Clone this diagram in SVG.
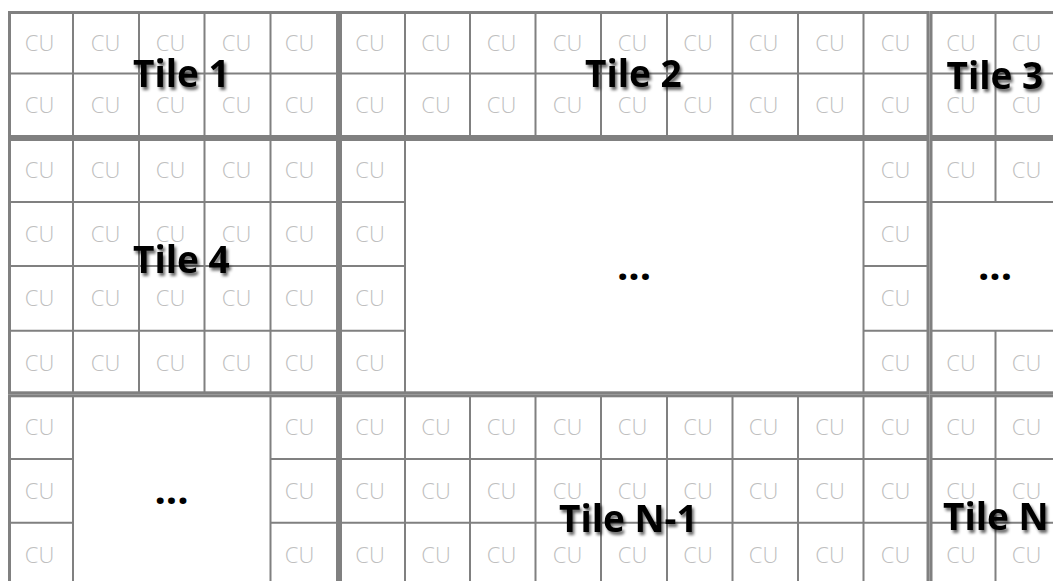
<svg xmlns="http://www.w3.org/2000/svg" width="1053" height="581" viewBox="0 0 1053 581">
<style>
.tile{fill:none;stroke:#808080;stroke-width:3}
.grid{fill:none;stroke:#808080;stroke-width:2}
.cu{font-family:"Open Sans","Liberation Sans",sans-serif;font-weight:300;font-size:22px;fill:#bfbfbf;text-anchor:middle}
.label{font-family:"Open Sans","Liberation Sans",sans-serif;font-weight:700;font-size:37px;fill:#000;filter:url(#shadow)}
.dots{font-family:"Open Sans","Liberation Sans",sans-serif;font-weight:700;font-size:40px;fill:#000;text-anchor:middle}
</style>
<defs>
<filter id="shadow" x="-10%" y="-30%" width="130%" height="170%">
<feGaussianBlur in="SourceAlpha" stdDeviation="1.5"/>
<feOffset dx="2" dy="2.5" result="o"/>
<feComponentTransfer in="o" result="s"><feFuncA type="linear" slope="0.6"/></feComponentTransfer>
<feMerge><feMergeNode in="s"/><feMergeNode in="SourceGraphic"/></feMerge>
</filter>
</defs>
<rect width="1053" height="581" fill="#fff"/>
<g id="tile-1">
<rect class="tile" x="9.5" y="12.5" width="328" height="124"/>
<path class="grid" d="M73 12.5V136.5M139 12.5V136.5M204.5 12.5V136.5M270.5 12.5V136.5M9.5 73.5H337.5"/>
<text class="cu" x="39.5" y="50.5">CU</text><text class="cu" x="105.5" y="50.5">CU</text><text class="cu" x="170.5" y="50.5">CU</text><text class="cu" x="236.5" y="50.5">CU</text><text class="cu" x="299.5" y="50.5">CU</text>
<text class="cu" x="39.5" y="113">CU</text><text class="cu" x="105.5" y="113">CU</text><text class="cu" x="170.5" y="113">CU</text><text class="cu" x="236.5" y="113">CU</text><text class="cu" x="299.5" y="113">CU</text>
<text class="label" x="133" y="87">Tile 1</text>
</g>
<g id="tile-2">
<rect class="tile" x="340.5" y="12.5" width="587.5" height="124"/>
<path class="grid" d="M405 12.5V136.5M470 12.5V136.5M535.5 12.5V136.5M601 12.5V136.5M667 12.5V136.5M732.5 12.5V136.5M798 12.5V136.5M863.5 12.5V136.5M340.5 73.5H928"/>
<text class="cu" x="370" y="50.5">CU</text><text class="cu" x="436" y="50.5">CU</text><text class="cu" x="501.5" y="50.5">CU</text><text class="cu" x="567.5" y="50.5">CU</text><text class="cu" x="632.5" y="50.5">CU</text><text class="cu" x="698" y="50.5">CU</text><text class="cu" x="763.5" y="50.5">CU</text><text class="cu" x="830" y="50.5">CU</text><text class="cu" x="895.5" y="50.5">CU</text>
<text class="cu" x="370" y="113">CU</text><text class="cu" x="436" y="113">CU</text><text class="cu" x="501.5" y="113">CU</text><text class="cu" x="567.5" y="113">CU</text><text class="cu" x="632.5" y="113">CU</text><text class="cu" x="698" y="113">CU</text><text class="cu" x="763.5" y="113">CU</text><text class="cu" x="830" y="113">CU</text><text class="cu" x="895.5" y="113">CU</text>
<text class="label" x="585" y="87">Tile 2</text>
</g>
<g id="tile-3">
<rect class="tile" x="931" y="12.5" width="140" height="124"/>
<path class="grid" d="M995.5 12.5V136.5M931 73.5H1071"/>
<text class="cu" x="961" y="50.5">CU</text><text class="cu" x="1026.5" y="50.5">CU</text>
<text class="cu" x="961" y="113">CU</text><text class="cu" x="1026.5" y="113">CU</text>
<text class="label" x="946.5" y="89">Tile 3</text>
</g>
<g id="tile-4">
<rect class="tile" x="9.5" y="139.5" width="328" height="253.3"/>
<path class="grid" d="M73 139.5V392.8M139 139.5V392.8M204.5 139.5V392.8M270.5 139.5V392.8M9.5 202H337.5M9.5 266H337.5M9.5 330.7H337.5"/>
<text class="cu" x="39.5" y="178">CU</text><text class="cu" x="105.5" y="178">CU</text><text class="cu" x="170.5" y="178">CU</text><text class="cu" x="236.5" y="178">CU</text><text class="cu" x="299.5" y="178">CU</text>
<text class="cu" x="39.5" y="241.5">CU</text><text class="cu" x="105.5" y="241.5">CU</text><text class="cu" x="170.5" y="241.5">CU</text><text class="cu" x="236.5" y="241.5">CU</text><text class="cu" x="299.5" y="241.5">CU</text>
<text class="cu" x="39.5" y="306">CU</text><text class="cu" x="105.5" y="306">CU</text><text class="cu" x="170.5" y="306">CU</text><text class="cu" x="236.5" y="306">CU</text><text class="cu" x="299.5" y="306">CU</text>
<text class="cu" x="39.5" y="370.5">CU</text><text class="cu" x="105.5" y="370.5">CU</text><text class="cu" x="170.5" y="370.5">CU</text><text class="cu" x="236.5" y="370.5">CU</text><text class="cu" x="299.5" y="370.5">CU</text>
<text class="label" x="133" y="273">Tile 4</text>
</g>
<g id="tile-center">
<rect class="tile" x="340.5" y="139.5" width="587.5" height="253.3"/>
<path class="grid" d="M405 139.5V392.8M863.5 139.5V392.8M340.5 202H405M340.5 266H405M340.5 330.7H405M863.5 202H928M863.5 266H928M863.5 330.7H928"/>
<text class="cu" x="370" y="178">CU</text><text class="cu" x="370" y="241.5">CU</text><text class="cu" x="370" y="306">CU</text><text class="cu" x="370" y="370.5">CU</text>
<text class="cu" x="895.5" y="178">CU</text><text class="cu" x="895.5" y="241.5">CU</text><text class="cu" x="895.5" y="306">CU</text><text class="cu" x="895.5" y="370.5">CU</text>
<text class="dots" x="634" y="280">...</text>
</g>
<g id="tile-right">
<rect class="tile" x="931" y="139.5" width="140" height="253.3"/>
<path class="grid" d="M931 202H1071M931 330.7H1071M995.5 139.5V202M995.5 330.7V392.8"/>
<text class="cu" x="961" y="178">CU</text><text class="cu" x="1026.5" y="178">CU</text>
<text class="cu" x="961" y="370.5">CU</text><text class="cu" x="1026.5" y="370.5">CU</text>
<text class="dots" x="995" y="280">...</text>
</g>
<g id="tile-bottom-left">
<rect class="tile" x="9.5" y="395.8" width="328" height="200"/>
<path class="grid" d="M73 395.8V595.8M270.5 395.8V595.8M9.5 459H73M9.5 522.8H73M270.5 459H337.5M270.5 522.8H337.5"/>
<text class="cu" x="39.5" y="435">CU</text><text class="cu" x="39.5" y="498.5">CU</text><text class="cu" x="39.5" y="562.5">CU</text>
<text class="cu" x="299.5" y="435">CU</text><text class="cu" x="299.5" y="498.5">CU</text><text class="cu" x="299.5" y="562.5">CU</text>
<text class="dots" x="171.5" y="504">...</text>
</g>
<g id="tile-n-1">
<rect class="tile" x="340.5" y="395.8" width="587.5" height="200"/>
<path class="grid" d="M405 395.8V595.8M470 395.8V595.8M535.5 395.8V595.8M601 395.8V595.8M667 395.8V595.8M732.5 395.8V595.8M798 395.8V595.8M863.5 395.8V595.8M340.5 459H928M340.5 522.8H928"/>
<text class="cu" x="370" y="435">CU</text><text class="cu" x="436" y="435">CU</text><text class="cu" x="501.5" y="435">CU</text><text class="cu" x="567.5" y="435">CU</text><text class="cu" x="632.5" y="435">CU</text><text class="cu" x="698" y="435">CU</text><text class="cu" x="763.5" y="435">CU</text><text class="cu" x="830" y="435">CU</text><text class="cu" x="895.5" y="435">CU</text>
<text class="cu" x="370" y="498.5">CU</text><text class="cu" x="436" y="498.5">CU</text><text class="cu" x="501.5" y="498.5">CU</text><text class="cu" x="567.5" y="498.5">CU</text><text class="cu" x="632.5" y="498.5">CU</text><text class="cu" x="698" y="498.5">CU</text><text class="cu" x="763.5" y="498.5">CU</text><text class="cu" x="830" y="498.5">CU</text><text class="cu" x="895.5" y="498.5">CU</text>
<text class="cu" x="370" y="562.5">CU</text><text class="cu" x="436" y="562.5">CU</text><text class="cu" x="501.5" y="562.5">CU</text><text class="cu" x="567.5" y="562.5">CU</text><text class="cu" x="632.5" y="562.5">CU</text><text class="cu" x="698" y="562.5">CU</text><text class="cu" x="763.5" y="562.5">CU</text><text class="cu" x="830" y="562.5">CU</text><text class="cu" x="895.5" y="562.5">CU</text>
<text class="label" x="559" y="531.5">Tile N-1</text>
</g>
<g id="tile-n">
<rect class="tile" x="931" y="395.8" width="140" height="200"/>
<path class="grid" d="M995.5 395.8V595.8M931 459H1071M931 522.8H1071"/>
<text class="cu" x="961" y="435">CU</text><text class="cu" x="1026.5" y="435">CU</text>
<text class="cu" x="961" y="498.5">CU</text><text class="cu" x="1026.5" y="498.5">CU</text>
<text class="cu" x="961" y="562.5">CU</text><text class="cu" x="1026.5" y="562.5">CU</text>
<text class="label" x="943" y="530">Tile N</text>
</g>
<g id="connectors"/>
</svg>
